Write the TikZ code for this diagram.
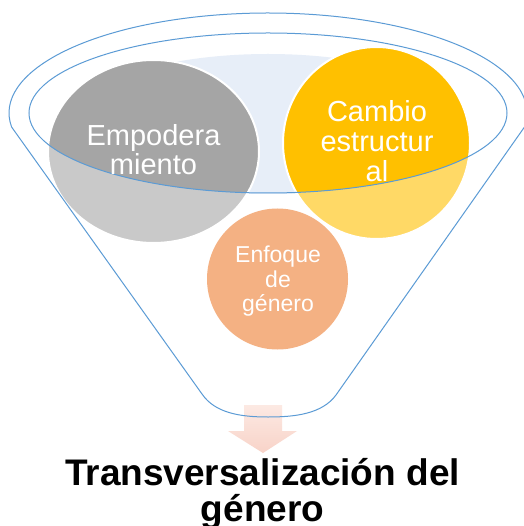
\documentclass[tikz,border=0pt]{standalone}
\usepackage{fontspec}
\setmainfont{Liberation Sans}
\definecolor{funblue}{HTML}{5B9BD5}
\definecolor{lightblue}{HTML}{E7EEF8}
\definecolor{graydark}{HTML}{A5A5A5}
\definecolor{graylight}{HTML}{C9C9C9}
\definecolor{yellowdark}{HTML}{FFC000}
\definecolor{yellowlight}{HTML}{FFD966}
\definecolor{orangefill}{HTML}{F4B183}
\definecolor{arrowtop}{HTML}{FCE9E3}
\definecolor{arrowbot}{HTML}{F8D3C8}
\begin{document}
\begin{tikzpicture}[x=1pt,y=-1pt,
  funnel/.style={draw=funblue,line width=1pt},
  rim/.style={draw=white,line width=2pt},
  bubbletext/.style={text=white,align=center,inner sep=0pt},
  titletext/.style={text=black,align=center,inner sep=0pt,font=\bfseries\fontsize{37}{36}\selectfont}]
\useasboundingbox (0,0) rectangle (523,526);
\fill[white] (0,0) rectangle (523,526);
% light blue back of funnel
\fill[lightblue] (268,124) ellipse [x radius=200,y radius=70];
% circles (light parts)
\fill[graylight] (153.5,151.5) ellipse [x radius=105.5,y radius=91.5];
\fill[yellowlight] (376.5,143) ellipse [x radius=93.5,y radius=96];
% darker parts inside the rim
\begin{scope}
  \clip (268,113) ellipse [x radius=239,y radius=80];
  \fill[graydark] (153.5,151.5) ellipse [x radius=105.5,y radius=91.5];
  \fill[yellowdark] (376.5,143) ellipse [x radius=93.5,y radius=96];
\end{scope}
\draw[rim] (153.5,151.5) ellipse [x radius=105.5,y radius=91.5];
\draw[rim] (376.5,143) ellipse [x radius=93.5,y radius=96];
% orange circle
\fill[orangefill] (277.5,279) circle [radius=70.5];
% arrow
\shade[top color=arrowtop,bottom color=arrowbot]
  (244,405) -- (282,405) -- (282,431) -- (297,431) -- (263,453) -- (228,431) -- (244,431) -- cycle;
% funnel outline
\draw[funnel] (11.6,127) arc [start angle=171.95,end angle=368.05,x radius=259,y radius=100]
  -- (336,395) .. controls (322,414) and (295,417) .. (268,417)
  .. controls (240,417) and (215,413) .. (202,394) -- cycle;
\draw[funnel] (268,113) ellipse [x radius=239,y radius=80];
% texts
\node[bubbletext,font=\fontsize{29}{29}\selectfont] (emp) at (153.5,150) {Empodera\\miento};
\node[bubbletext,font=\fontsize{29}{30}\selectfont] (cam) at (377,141.5) {Cambio\\estructur\\al};
\node[bubbletext,font=\fontsize{23}{24.5}\selectfont] (enf) at (278,281.5) {Enfoque\\de\\género};
\node[titletext] (tit) at (262.5,493.5) {Transversalización del\\género};
\end{tikzpicture}
\end{document}
